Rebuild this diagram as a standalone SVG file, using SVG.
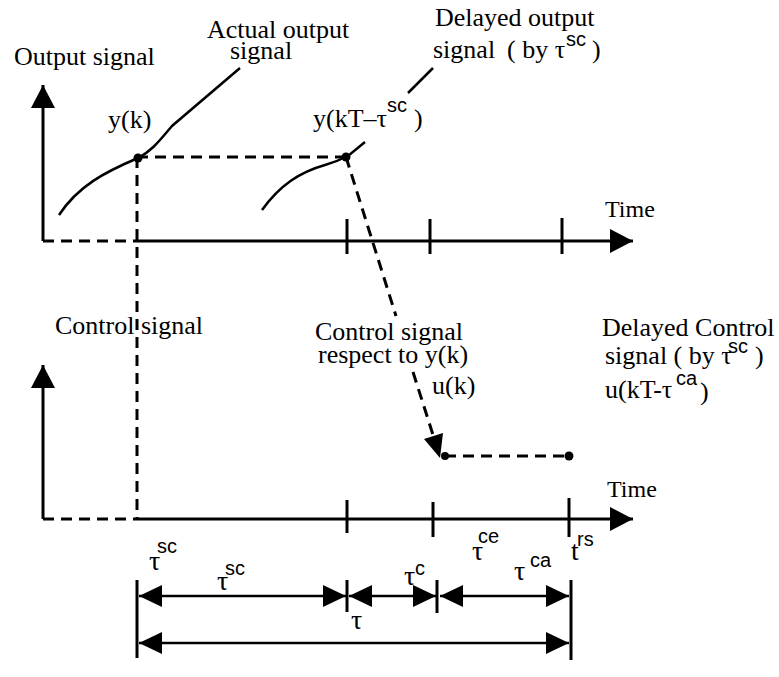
<svg xmlns="http://www.w3.org/2000/svg" width="779" height="677" viewBox="0 0 779 677">
<defs>
<marker id="ah" viewBox="0 -11 23 22" refX="23" refY="0" markerWidth="23" markerHeight="22" markerUnits="userSpaceOnUse" orient="auto-start-reverse">
<path d="M0,-11 L23,0 L0,11 z" fill="#000"/>
</marker>
<marker id="ax" viewBox="0 -12 23 24" refX="23" refY="0" markerWidth="23" markerHeight="24" markerUnits="userSpaceOnUse" orient="auto">
<path d="M0,-12 L23,0 L0,12 z" fill="#000"/>
</marker>
</defs>
<style>
.t{font-family:"Liberation Serif","Times New Roman",serif;font-size:26px;fill:#000}
.tm{font-family:"Liberation Serif","Times New Roman",serif;font-size:24px;fill:#000}
.g{font-family:"Liberation Serif","Times New Roman",serif;font-size:28px;fill:#000}
.s{font-family:"Liberation Sans",Arial,sans-serif;font-size:20px;fill:#000}
.ax{stroke:#000;stroke-width:3;fill:none}
.da{stroke:#000;stroke-width:3;fill:none;stroke-dasharray:11 7}
.cv{stroke:#000;stroke-width:2.5;fill:none}
.dim{stroke:#000;stroke-width:2.5;fill:none}
</style>
<rect width="779" height="677" fill="#fff"/>
<g id="upper-axes">
<line class="ax" x1="43" y1="241" x2="43" y2="85" marker-end="url(#ax)"/>
<line class="ax" x1="137" y1="241" x2="633" y2="241" marker-end="url(#ax)"/>
<line class="da" x1="43" y1="241" x2="137" y2="241"/>
<line class="ax" x1="347" y1="219" x2="347" y2="254"/>
<line class="ax" x1="430" y1="219" x2="430" y2="254"/>
<line class="ax" x1="562" y1="218" x2="562" y2="254"/>
</g>
<g id="lower-axes">
<line class="ax" x1="43" y1="519" x2="43" y2="365" marker-end="url(#ax)"/>
<line class="ax" x1="137" y1="519" x2="633" y2="519" marker-end="url(#ax)"/>
<line class="da" x1="43" y1="519" x2="137" y2="519"/>
<line class="ax" x1="347" y1="500" x2="347" y2="533"/>
<line class="ax" x1="433" y1="502" x2="433" y2="537"/>
<line class="ax" x1="569" y1="498" x2="569" y2="537"/>
</g>
<g id="actual-output-signal">
<path class="cv" d="M59,215 C78,186 105,172 138,158 C152,151 160,140 172,126 L240,68"/>
<circle cx="138" cy="158" r="4.5" fill="#000"/>
</g>
<g id="delayed-output-signal">
<path class="cv" d="M262,210 C280,185 300,172 325,165 C335,162 342,159 348,156 L365,142"/>
<line class="cv" x1="408" y1="93" x2="433" y2="68"/>
<circle cx="346" cy="157" r="4.5" fill="#000"/>
</g>
<g id="connectors">
<line class="da" x1="137" y1="157" x2="346" y2="157"/>
<line class="da" x1="137" y1="157" x2="137" y2="519"/>
<line class="da" x1="346" y1="157" x2="396" y2="316"/>
<line class="da" x1="413" y1="372" x2="434" y2="438"/>
<path d="M440,458 L443,433 L424,439 z" fill="#000"/>
<line class="da" x1="445" y1="456" x2="569" y2="456"/>
<circle cx="445" cy="456" r="4" fill="#000"/>
<circle cx="569" cy="456" r="4.5" fill="#000"/>
</g>
<g id="dimensions">
<line class="ax" x1="137" y1="580" x2="137" y2="658"/>
<line class="ax" x1="571" y1="580" x2="571" y2="660"/>
<line class="ax" x1="347" y1="580" x2="347" y2="612"/>
<line class="ax" x1="437" y1="580" x2="437" y2="613"/>
<line class="dim" x1="139" y1="596" x2="346" y2="596" marker-start="url(#ah)" marker-end="url(#ah)"/>
<line class="dim" x1="349" y1="596" x2="436" y2="596" marker-start="url(#ah)" marker-end="url(#ah)"/>
<line class="dim" x1="440" y1="596" x2="569" y2="596" marker-start="url(#ah)" marker-end="url(#ah)"/>
<line class="dim" x1="139" y1="643" x2="569" y2="643" marker-start="url(#ah)" marker-end="url(#ah)"/>
</g>
<g id="labels">
<text class="t" x="14" y="65">Output signal</text>
<text class="t" x="207" y="38">Actual output</text>
<text class="t" x="230" y="59">signal</text>
<text class="t" x="435" y="26">Delayed output</text>
<text class="t" x="433" y="58">signal</text>
<text class="t" x="507" y="58">( by τ</text>
<text class="s" x="566" y="46">sc</text>
<text class="t" x="592" y="58">)</text>
<text class="t" x="108" y="128">y(k)</text>
<text class="t" x="313" y="127">y(kT–τ</text>
<text class="s" x="387" y="112">sc</text>
<text class="t" x="414" y="127">)</text>
<text class="tm" x="605" y="217">Time</text>
<text class="tm" x="607" y="497">Time</text>
<text class="t" x="55" y="334">Control signal</text>
<text class="t" x="315" y="340">Control signal</text>
<text class="t" x="318" y="363">respect to y(k)</text>
<text class="t" x="432" y="394">u(k)</text>
<text class="t" x="602" y="336">Delayed Control</text>
<text class="t" x="605" y="364">signal ( by τ</text>
<text class="s" x="728" y="353">sc</text>
<text class="t" x="755" y="364">)</text>
<text class="t" x="605" y="398">u(kT-τ</text>
<text class="s" x="676" y="385">ca</text>
<text class="t" x="700" y="400">)</text>
<text class="g" x="149" y="570">τ</text>
<text class="s" x="157" y="553">sc</text>
<text class="g" x="217" y="590">τ</text>
<text class="s" x="225" y="575">sc</text>
<text class="g" x="404" y="585">τ</text>
<text class="s" x="415" y="575">c</text>
<text class="g" x="351" y="629">τ</text>
<text class="g" x="472" y="560">τ</text>
<text class="s" x="478" y="543">ce</text>
<text class="g" x="514" y="580">τ</text>
<text class="s" x="530" y="567">ca</text>
<text class="g" x="571" y="560">t</text>
<text class="s" x="577" y="546">rs</text>
</g>
</svg>
